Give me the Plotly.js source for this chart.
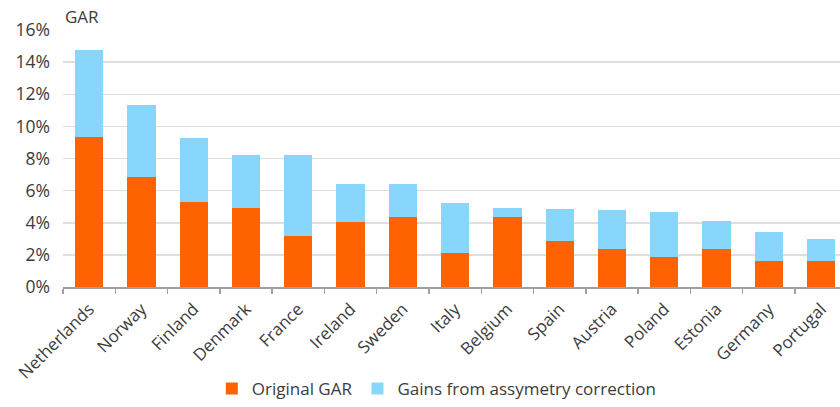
<!DOCTYPE html>
<html>
<head>
<meta charset="utf-8">
<script src="https://cdn.plot.ly/plotly-3.0.1.min.js"></script>
<style>html,body{margin:0;padding:0;background:#fff;overflow:hidden}</style>
</head>
<body>
<div id="chart" style="width:840px;height:407px"></div>
<script>
const countries = ["Netherlands","Norway","Finland","Denmark","France","Ireland","Sweden","Italy","Belgium","Spain","Austria","Poland","Estonia","Germany","Portugal"];
const originalGAR = [9.35, 6.85, 5.3, 4.93, 3.17, 4.04, 4.35, 2.11, 4.35, 2.88, 2.36, 1.84, 2.36, 1.61, 1.61];
const gains = [5.43, 4.47, 3.97, 3.29, 5.05, 2.36, 2.05, 3.11, 0.56, 1.96, 2.42, 2.86, 1.76, 1.84, 1.39];

const font = "Open Sans, Noto Sans, sans-serif";
const textColor = "#3c3c3c";

const data = [
  {type:"bar", name:"Original GAR", x:countries, y:originalGAR, marker:{color:"#FF6200", line:{width:0}}},
  {type:"bar", name:"Gains from assymetry correction", x:countries, y:gains, marker:{color:"#89D6FD", line:{width:0}}}
];

const layout = {
  width:840, height:407,
  margin:{l:63, r:0, t:30, b:120},
  barmode:"stack",
  bargap:0.46,
  paper_bgcolor:"#fff", plot_bgcolor:"#fff",
  font:{family:font, size:16, color:textColor},
  showlegend:true,
  legend:{orientation:"h", xref:"container", yref:"container", x:0.52, xanchor:"center", y:0.0, yanchor:"bottom",
          font:{family:font, size:17, color:textColor}, itemwidth:30, traceorder:"normal"},
  xaxis:{type:"category", range:[-0.5, 14.36], showline:true, linecolor:"#a0a0a0", linewidth:1.5,
         ticks:"outside", tickson:"boundaries", ticklen:5, tickcolor:"#a0a0a0", tickwidth:1.5,
         tickangle:-45, showgrid:false, ticklabelstandoff:4, tickfont:{family:font, size:17, color:textColor}},
  yaxis:{range:[0,16], dtick:2, ticksuffix:"%", showgrid:true, gridcolor:"#dedede", gridwidth:1.5,
         zeroline:false, showline:false, ticks:"", ticklabelstandoff:12,
         tickfont:{family:font, size:17.5, color:textColor}},
  annotations:[{text:"GAR", xref:"paper", yref:"paper", x:0, y:1, xanchor:"left", yanchor:"bottom",
                yshift:0, showarrow:false, font:{family:font, size:17, color:textColor}}]
};

Plotly.newPlot("chart", data, layout, {displayModeBar:false, staticPlot:true});
</script>
</body>
</html>
